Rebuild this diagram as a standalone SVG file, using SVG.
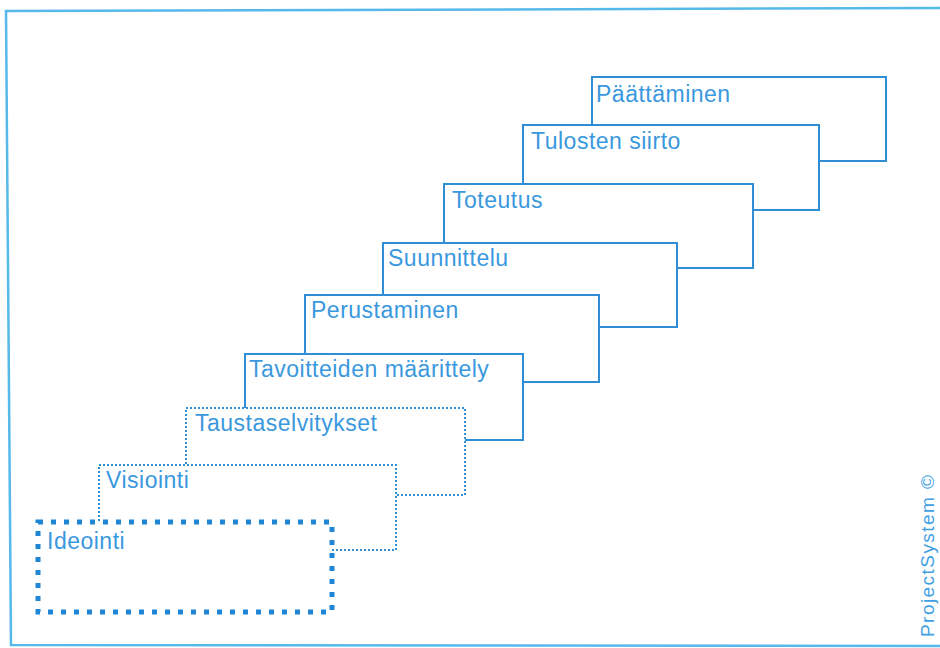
<svg xmlns="http://www.w3.org/2000/svg" width="940" height="648" viewBox="0 0 940 648">
<style>
.box{fill:#ffffff;stroke:#2f8ed4;stroke-width:2}
.dot{fill:#ffffff;stroke:#2f8ed4;stroke-width:2;stroke-dasharray:2 2}
.big{fill:#ffffff;stroke:#1f86d6;stroke-width:5;stroke-dasharray:5 8}
.lbl{font-family:"Liberation Sans",Arial,sans-serif;font-size:23px;letter-spacing:0.5px;fill:#3a98de}
.cr{font-family:"Liberation Sans",Arial,sans-serif;font-size:19px;fill:#3fa0e2}
</style>
<rect x="0" y="0" width="940" height="648" fill="#ffffff"/>
<path d="M940,8 L6,11 L11,645 L940,646" fill="none" stroke="#55b9e9" stroke-width="2.5"/>
<g id="paattaminen">
<rect class="box" x="592" y="77" width="294" height="84"/>
<text class="lbl" x="596" y="102">Päättäminen</text>
</g>
<g id="tulosten-siirto">
<rect class="box" x="523" y="125" width="296" height="85"/>
<text class="lbl" x="531" y="149">Tulosten siirto</text>
</g>
<g id="toteutus">
<rect class="box" x="444" y="184" width="309" height="84"/>
<text class="lbl" x="452" y="208">Toteutus</text>
</g>
<g id="suunnittelu">
<rect class="box" x="383" y="243" width="294" height="84"/>
<text class="lbl" x="388" y="266">Suunnittelu</text>
</g>
<g id="perustaminen">
<rect class="box" x="305" y="295" width="294" height="87"/>
<text class="lbl" x="311" y="318">Perustaminen</text>
</g>
<g id="tavoitteiden-maarittely">
<rect class="box" x="245" y="354" width="278" height="86"/>
<text class="lbl" x="249" y="377">Tavoitteiden määrittely</text>
</g>
<g id="taustaselvitykset">
<rect class="dot" x="186" y="408" width="279" height="87"/>
<text class="lbl" x="195" y="431">Taustaselvitykset</text>
</g>
<g id="visiointi">
<rect class="dot" x="99" y="465" width="297" height="85"/>
<text class="lbl" x="106" y="488">Visiointi</text>
</g>
<g id="ideointi">
<rect class="big" x="38" y="522" width="294" height="90"/>
<text class="lbl" x="47" y="549">Ideointi</text>
</g>
<g id="connectors"></g>
<text class="cr" transform="translate(934,637) rotate(-90)" x="0" y="0" textLength="162" lengthAdjust="spacing">ProjectSystem ©</text>
</svg>
